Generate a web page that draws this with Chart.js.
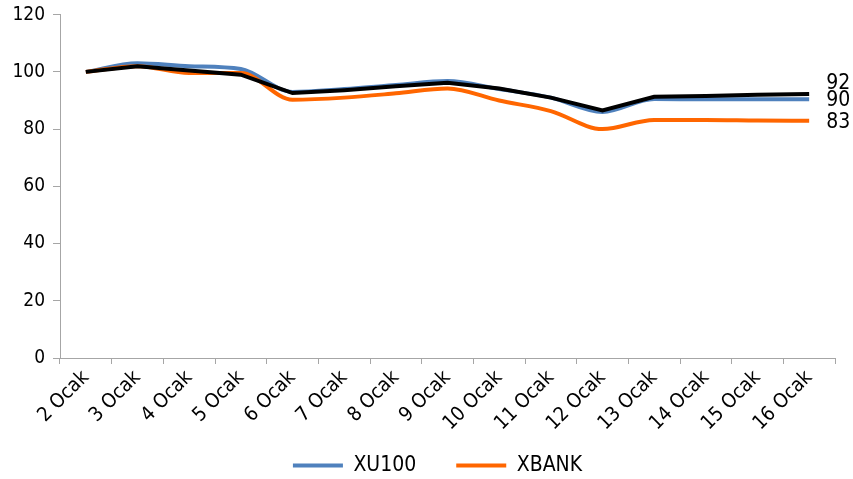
<!DOCTYPE html>
<html>
<head>
<meta charset="utf-8">
<script src="https://cdn.jsdelivr.net/npm/chart.js@4"></script>
<style>
  html, body { margin: 0; padding: 0; background: #fff; }
  #wrap { width: 853px; height: 479px; }
</style>
</head>
<body>
<div id="wrap"><canvas id="chart" width="853" height="479"></canvas></div>
<script>
const labels = ['2 Ocak', '3 Ocak', '4 Ocak', '5 Ocak', '6 Ocak', '7 Ocak', '8 Ocak', '9 Ocak',
  '10 Ocak', '11 Ocak', '12 Ocak', '13 Ocak', '14 Ocak', '15 Ocak', '16 Ocak'];
const xu100 = [100, 103, 102, 101, 93, 94, 95.4, 96.8, 94, 91, 86, 90.5, 90.4, 90.4, 90.4];
const xbank = [100, 102, 99.6, 99.6, 90.3, 91, 92.5, 94.2, 90, 86.3, 80, 83.2, 83.2, 83, 82.9];
const other = [100, 102, 100.5, 99, 92.6, 93.6, 95, 96.2, 94.2, 91, 86.5, 91.3, 91.6, 92, 92.3];
const yTicks = [0, 20, 40, 60, 80, 100, 120];

const FONT = '"DejaVu Sans Condensed", "DejaVu Sans", sans-serif';

// writes the last value at the right end of each line
const endLabels = {
  id: 'endLabels',
  afterDatasetsDraw(chart) {
    const ctx = chart.ctx;
    const y = chart.scales.y;
    const shift = [1, 2, -10];
    ctx.save();
    ctx.font = '21px ' + FONT;
    ctx.fillStyle = '#000';
    ctx.textBaseline = 'middle';
    chart.data.datasets.forEach((ds, i) => {
      const meta = chart.getDatasetMeta(i);
      const last = meta.data[meta.data.length - 1];
      const v = ds.data[ds.data.length - 1];
      ctx.fillText(Math.round(v), last.x + 17, y.getPixelForValue(v) + shift[i]);
    });
    ctx.restore();
  }
};

// nudge the legend a bit right and up, like the original
const moveLegend = {
  id: 'moveLegend',
  afterLayout(chart) {
    const lg = chart.legend;
    lg.left += 18; lg.right += 18;
    lg.top -= 17; lg.bottom -= 17;
  }
};

new Chart(document.getElementById('chart'), {
  type: 'line',
  data: {
    labels: labels,
    datasets: [
      {
        label: 'XU100',
        data: xu100,
        borderColor: '#4f81bd',
        backgroundColor: '#4f81bd',
        borderWidth: 4,
        pointRadius: 0,
        cubicInterpolationMode: 'monotone',
        order: 2
      },
      {
        label: 'XBANK',
        data: xbank,
        borderColor: '#ff6600',
        backgroundColor: '#ff6600',
        borderWidth: 4,
        pointRadius: 0,
        cubicInterpolationMode: 'monotone',
        order: 1
      },
      {
        label: '',
        data: other,
        borderColor: '#000000',
        backgroundColor: '#000000',
        borderWidth: 4,
        pointRadius: 0,
        tension: 0,
        order: 0
      }
    ]
  },
  options: {
    responsive: false,
    animation: false,
    layout: { padding: { top: 0, right: 18, left: 4, bottom: -24 } },
    plugins: {
      tooltip: { enabled: false },
      legend: {
        position: 'bottom',
        labels: {
          filter: item => item.text !== '',
          sort: (a, b) => a.datasetIndex - b.datasetIndex,
          boxWidth: 50,
          boxHeight: 0,
          padding: 40,
          color: '#000',
          font: { family: FONT, size: 21 }
        }
      }
    },
    scales: {
      x: {
        offset: true,
        afterFit: axis => { axis.height = 74; },
        grid: { drawOnChartArea: false, offset: true, tickLength: 6, color: '#a6a6a6' },
        border: { color: '#a6a6a6', width: 1 },
        ticks: {
          minRotation: 45,
          maxRotation: 45,
          padding: 2,
          color: '#000',
          font: { family: FONT, size: 20 }
        }
      },
      y: {
        min: 0,
        max: 120,
        afterBuildTicks: axis => { axis.ticks = yTicks.map(v => ({ value: v })); },
        afterFit: axis => { axis.width = 56; },
        grid: { drawOnChartArea: false, tickLength: 7, color: '#a6a6a6' },
        border: { color: '#a6a6a6', width: 1 },
        ticks: {
          color: '#000',
          padding: 8,
          font: { family: FONT, size: 19, lineHeight: 0.7 }
        }
      }
    }
  },
  plugins: [endLabels, moveLegend]
});
</script>
</body>
</html>
